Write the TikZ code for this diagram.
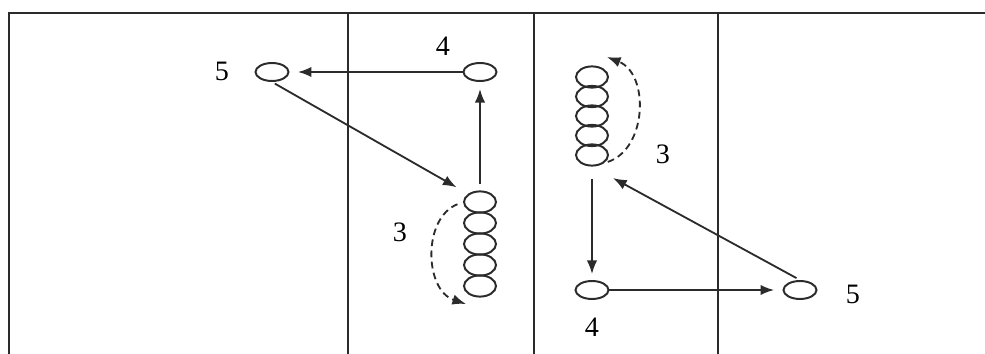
\documentclass[tikz,border=0pt]{standalone}
\usepackage{fontspec}
\setmainfont{Liberation Serif}
\usetikzlibrary{shapes.geometric,arrows.meta}
\definecolor{lineclr}{HTML}{2B2B2B}

\tikzset{
  player/.style={ellipse, draw=lineclr, line width=1.4pt, minimum width=8.25mm, minimum height=4.5mm, inner sep=0pt},
  queue/.style={ellipse, draw=lineclr, line width=1.4pt, minimum width=8mm, minimum height=5.3mm, inner sep=0pt},
  run/.style={draw=lineclr, line width=1.3pt, -{Latex[length=3.4mm,width=2.6mm]}},
  swap/.style={run, dash pattern=on 1.7mm off 1.1mm},
  num/.style={font=\fontsize{20}{22}\selectfont, text=black}
}

\begin{document}
\begin{tikzpicture}[x=0.25mm, y=-0.25mm]
  \useasboundingbox (0,0) rectangle (985,354);
  % court lines
  \draw[lineclr, line width=1.8pt] (9,354) -- (9,13) -- (985,13);
  \draw[lineclr, line width=1.4pt] (348,13) -- (348,354);
  \draw[lineclr, line width=1.4pt] (534,13) -- (534,354);
  \draw[lineclr, line width=1.4pt] (718,13) -- (718,354);

  % left drill
  \node[player] (o5a) at (272,72) {};
  \node[player] (o4a) at (480,72) {};
  \foreach \i in {1,...,5}
    \node[queue] (l\i) at (480,{202+21*(\i-1)}) {};
  \node[num] (lab5a) at (222,71) {5};
  \node[num] (lab4a) at (443,46) {4};
  \node[num] (lab3a) at (400,232) {3};
  \coordinate (e1) at (466,304);

  \draw[run, shorten >=2.1mm] (o4a) -- (o5a);
  \draw[run, shorten <=1.6mm, shorten >=1.75mm] (l1) -- (o4a);
  \draw[run, shorten <=0.8mm, shorten >=3.3mm] (o5a.south) -- (l1.north west);
  \draw[swap, shorten <=1.5mm] (l1.west) to[bend right=70, looseness=1.1] (e1);

  % right drill
  \foreach \i in {1,...,5}
    \node[queue] (r\i) at (592,{77+19.5*(\i-1)}) {};
  \node[player] (o4b) at (592,290) {};
  \node[player] (o5b) at (800,290) {};
  \node[num] (lab3b) at (663,154) {3};
  \node[num] (lab4b) at (592,327) {4};
  \node[num] (lab5b) at (853,294) {5};
  \coordinate (e2) at (607,57);

  \draw[run, shorten <=3.1mm, shorten >=1.5mm] (r5) -- (o4b);
  \draw[run, shorten >=2.1mm] (o4b) -- (o5b);
  \draw[run, shorten <=1mm, shorten >=6mm] (o5b.north) -- (r5.south);
  \draw[swap, shorten <=1mm] (r5.south east) to[bend right=70, looseness=1.1] (e2);
\end{tikzpicture}
\end{document}
